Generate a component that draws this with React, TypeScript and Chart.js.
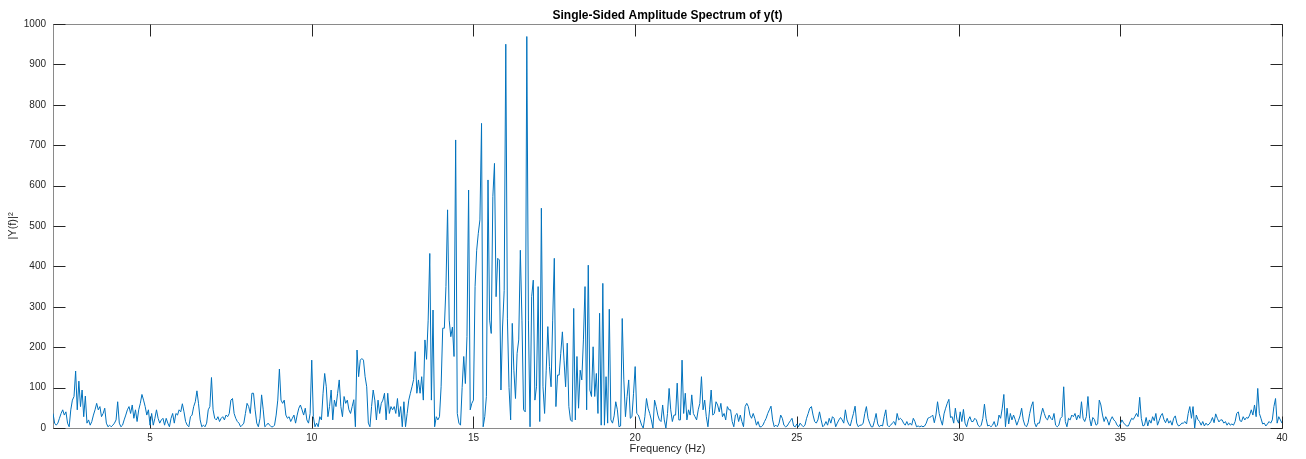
import React, { useEffect, useRef } from "react";
import { Chart, registerables } from "chart.js";

Chart.register(...registerables);

// Frequency grid (Hz) of the single-sided spectrum
const FREQ_START_HZ = 2;
const FREQ_STEP_HZ = 0.05;

// |Y(f)|^2 values, in frequency order
const AMP_2_TO_6 = [
  36, 12, 7, 12, 24, 36, 45, 32, 40, 12,
  3, 45, 69, 78, 141, 45, 116, 53, 94, 28,
  79, 12, 20, 7, 16, 32, 45, 61, 45, 53,
  28, 36, 49, 12, 3, 7, 3, 7, 12, 20,
  65, 12, 3, 7, 20, 32, 45, 53, 36, 57,
  24, 45, 16, 45, 61, 83, 69, 53, 32, 45,
  7, 36, 7, 24, 45, 24, 12, 20, 24, 7,
  24, 12, 3, 24, 36, 12, 36, 32, 45,
];
const AMP_6_TO_10 = [
  40, 60, 40, 16, 7, 3, 28, 32, 53, 65,
  92, 60, 20, 3, 7, 3, 12, 45, 53, 125,
  45, 24, 20, 28, 16, 24, 28, 20, 32, 28,
  36, 69, 73, 36, 24, 16, 12, 3, 7, 12,
  36, 61, 53, 36, 86, 86, 45, 12, 3, 24,
  82, 45, 3, 7, 12, 7, 3, 3, 7, 32,
  69, 146, 69, 61, 69, 32, 24, 28, 16, 24,
  32, 12, 32, 49, 57, 45, 32,
];
const AMP_10_TO_13 = [
  49, 20, 12, 36, 168, 28, 3, 12, 3, 28,
  20, 86, 135, 102, 28, 53, 94, 20, 69, 53,
  86, 119, 53, 28, 78, 61, 69, 45, 36, 53,
  70, 3, 193, 127, 168, 172, 168, 127, 102, 12,
  3, 53, 94, 69, 20, 69, 36, 61, 69, 86,
  20, 86, 36, 53, 45, 53, 36, 73, 28, 53,
  3, 65, 3, 36, 69, 86, 102, 120, 189, 86,
  119, 86, 127, 69, 218,
];
const AMP_13_TO_16 = [
  170, 267, 432, 69, 292, 3, 28, 20, 28, 102,
  247, 247, 350, 540, 267, 226, 250, 177, 713, 36,
  12, 7, 100, 177, 110, 226, 589, 45, 61, 69,
  350, 440, 482, 515, 754, 3, 28, 78, 614, 267,
  234, 573, 655, 325, 420, 416, 94, 250, 340,
];
const AMP_16_TO_19 = [
  950, 270, 100, 20, 259, 143, 73, 185, 218, 440,
  267, 45, 40, 969, 267, 3, 325, 366, 69, 102,
  350, 16, 544, 102, 36, 143, 251, 152, 102, 267,
  420, 53, 131, 131, 185, 238, 168, 102, 210, 53,
  20, 16, 296, 20, 177, 49, 143, 119, 218, 350,
  45, 403, 94, 78, 201, 78, 135, 36, 284,
];
const AMP_19_TO_22 = [
  7, 358, 7, 127, 12, 294, 20, 12, 30, 65,
  45, 3, 5, 271, 119, 28, 78, 119, 24, 28,
  86, 152, 36, 32, 20, 7, 0, 28, 73, 49,
  36, 20, 0, 69, 53, 32, 20, 16, 57, 20,
  0, 36, 98, 45, 16, 32, 32, 111, 20, 20,
  168, 36, 86, 20, 45, 32, 82, 36, 28, 20,
  45, 61, 127, 45, 69,
];
const AMP_22_TO_26 = [
  28, 3, 45, 94, 32, 36, 65, 57, 40, 61,
  28, 36, 20, 53, 45, 45, 16, 3, 32, 36,
  16, 32, 16, 3, 53, 61, 53, 32, 24, 36,
  24, 7, 16, 3, 3, 7, 16, 24, 36, 45,
  54, 20, 3, 7, 3, 12, 32, 24, 7, 3,
  5, 12, 18, 24, 5, 3, 10, 3, 12, 7,
  3, 7, 24, 36, 49, 53, 32, 16, 12, 20,
  40, 20, 3, 7, 16, 7,
];
const AMP_26_TO_30 = [
  24, 12, 28, 24, 3, 12, 20, 26, 20, 12,
  45, 20, 10, 5, 21, 36, 54, 12, 3, 7,
  7, 12, 36, 53, 24, 12, 3, 3, 18, 36,
  10, 3, 7, 5, 28, 45, 7, 3, 7, 12,
  16, 7, 36, 20, 24, 20, 12, 7, 16, 7,
  12, 7, 24, 16, 3, 5, 3, 5, 3, 5,
  12, 24, 26, 28, 32, 13, 32, 65, 36, 20,
  7, 35, 49, 61, 71, 26, 28, 12, 49, 21,
];
const AMP_30_TO_34 = [
  12, 40, 16, 46, 12, 3, 20, 28, 16, 16,
  24, 20, 7, 3, 7, 24, 59, 24, 5, 7,
  3, 7, 16, 3, 7, 32, 24, 49, 83, 3,
  49, 10, 36, 20, 32, 21, 7, 18, 30, 49,
  20, 7, 3, 13, 36, 54, 65, 13, 3, 12,
  12, 32, 49, 36, 24, 20, 32, 24, 20, 36,
  7, 3, 7, 24, 28, 102, 16, 3, 24, 20,
  32, 28, 36, 20, 32, 24, 65, 24, 16, 28,
];
const AMP_34_TO_40 = [
  78, 24, 5, 26, 21, 7, 10, 69, 57, 32,
  16, 28, 20, 7, 20, 28, 20, 16, 7, 3,
  10, 20, 13, 8, 5, 5, 15, 24, 21, 28,
  36, 28, 76, 24, 5, 7, 26, 5, 20, 12,
  28, 18, 36, 7, 18, 30, 36, 21, 13, 24,
  12, 18, 7, 24, 30, 12, 5, 7, 12, 12,
  16, 10, 36, 53, 24, 53, 0, 32, 21, 16,
  7, 16, 5, 12, 7, 10, 16, 26, 13, 35,
  24, 15, 20, 20, 12, 16, 7, 13, 7, 10,
  7, 16, 36, 40, 18, 16, 28, 20, 26, 24,
  32, 45, 32, 57, 28, 98, 36, 24, 10, 12,
  5, 10, 16, 12, 20, 53, 73, 12, 28, 20,
  12,
];

const AMPLITUDE = [
  ...AMP_2_TO_6,
  ...AMP_6_TO_10,
  ...AMP_10_TO_13,
  ...AMP_13_TO_16,
  ...AMP_16_TO_19,
  ...AMP_19_TO_22,
  ...AMP_22_TO_26,
  ...AMP_26_TO_30,
  ...AMP_30_TO_34,
  ...AMP_34_TO_40,
];
const FREQUENCY = AMPLITUDE.map((_, i) => +(FREQ_START_HZ + i * FREQ_STEP_HZ).toFixed(2));

const X_TICKS = [5, 10, 15, 20, 25, 30, 35, 40];
const Y_TICKS = [0, 100, 200, 300, 400, 500, 600, 700, 800, 900, 1000];

const TITLE = "Single-Sided Amplitude Spectrum of y(t)";
const X_LABEL = "Frequency (Hz)";
const Y_LABEL = "|Y(f)|\u00B2";

const FONT = "'Liberation Sans', Arial, Helvetica, sans-serif";
const TICK_LEN = 12;

const matlabBox = {
  id: "matlabBox",
  beforeDatasetsDraw(chart: any) {
    const { ctx, chartArea, scales } = chart;
    const L = Math.round(chartArea.left) + 0.5;
    const R = Math.round(chartArea.right) + 0.5;
    const T = Math.round(chartArea.top) + 0.5;
    const B = Math.round(chartArea.bottom) + 0.5;
    ctx.save();
    ctx.lineWidth = 1;
    ctx.strokeStyle = "#8a8a8a";
    ctx.strokeRect(L, T, R - L, B - T);
    ctx.strokeStyle = "#262626";
    ctx.beginPath();
    for (const t of scales.x.ticks) {
      const px = Math.round(scales.x.getPixelForValue(t.value)) + 0.5;
      ctx.moveTo(px, B);
      ctx.lineTo(px, B - TICK_LEN);
      ctx.moveTo(px, T);
      ctx.lineTo(px, T + TICK_LEN);
    }
    for (const t of scales.y.ticks) {
      const py = Math.round(scales.y.getPixelForValue(t.value)) + 0.5;
      ctx.moveTo(L, py);
      ctx.lineTo(L + TICK_LEN, py);
      ctx.moveTo(R, py);
      ctx.lineTo(R - TICK_LEN, py);
    }
    ctx.stroke();
    ctx.restore();
  },
};

export default function App() {
  const canvasRef = useRef<HTMLCanvasElement | null>(null);

  useEffect(() => {
    const canvas = canvasRef.current;
    if (!canvas) return;
    const chart = new Chart(canvas, {
      type: "line",
      data: {
        datasets: [
          {
            data: FREQUENCY.map((f, i) => ({ x: f, y: AMPLITUDE[i] })),
            borderColor: "#0072BD",
            borderWidth: 1,
            pointRadius: 0,
            tension: 0,
            fill: false,
          },
        ],
      },
      options: {
        animation: false,
        responsive: false,
        devicePixelRatio: 1,
        layout: { padding: { left: 0, right: 24, top: 0, bottom: 0 } },
        plugins: {
          legend: { display: false },
          tooltip: { enabled: false },
          title: {
            display: true,
            text: TITLE,
            fullSize: false,
            color: "#000000",
            font: { family: FONT, size: 12, weight: "bold", lineHeight: 1.2 },
            padding: { top: 8, bottom: 1.6 },
          },
        },
        scales: {
          x: {
            type: "linear",
            min: 2,
            max: 40,
            grid: { display: false, drawTicks: false },
            border: { display: false },
            afterBuildTicks: (s: any) => {
              s.ticks = X_TICKS.map((v) => ({ value: v }));
            },
            afterFit: (s: any) => {
              s.height = 31;
            },
            ticks: {
              padding: 4,
              color: "#262626",
              maxRotation: 0,
              autoSkip: false,
              callback: (v: any) => String(v),
              font: { family: FONT, size: 10, lineHeight: 1.2 },
            },
            title: {
              display: true,
              text: X_LABEL,
              color: "#262626",
              font: { family: FONT, size: 11, lineHeight: 1.2 },
              padding: { top: 0, bottom: 3.4 },
            },
          },
          y: {
            type: "linear",
            min: 0,
            max: 1000,
            grid: { display: false, drawTicks: false },
            border: { display: false },
            afterBuildTicks: (s: any) => {
              s.ticks = Y_TICKS.map((v) => ({ value: v }));
            },
            afterFit: (s: any) => {
              s.width = 53;
            },
            ticks: {
              padding: 7,
              color: "#262626",
              autoSkip: false,
              callback: (v: any) => String(v),
              font: { family: FONT, size: 10, lineHeight: 1.2 },
            },
            title: {
              display: true,
              text: Y_LABEL,
              color: "#262626",
              font: { family: FONT, size: 11, lineHeight: 1.2 },
              padding: { top: 6, bottom: 0 },
            },
          },
        },
      },
      plugins: [matlabBox],
    });
    return () => chart.destroy();
  }, []);

  return (
    <div style={{ position: "fixed", left: 0, top: 0, width: 1306, height: 459, background: "#ffffff" }}>
      <canvas ref={canvasRef} width={1306} height={459} style={{ display: "block" }} />
    </div>
  );
}
